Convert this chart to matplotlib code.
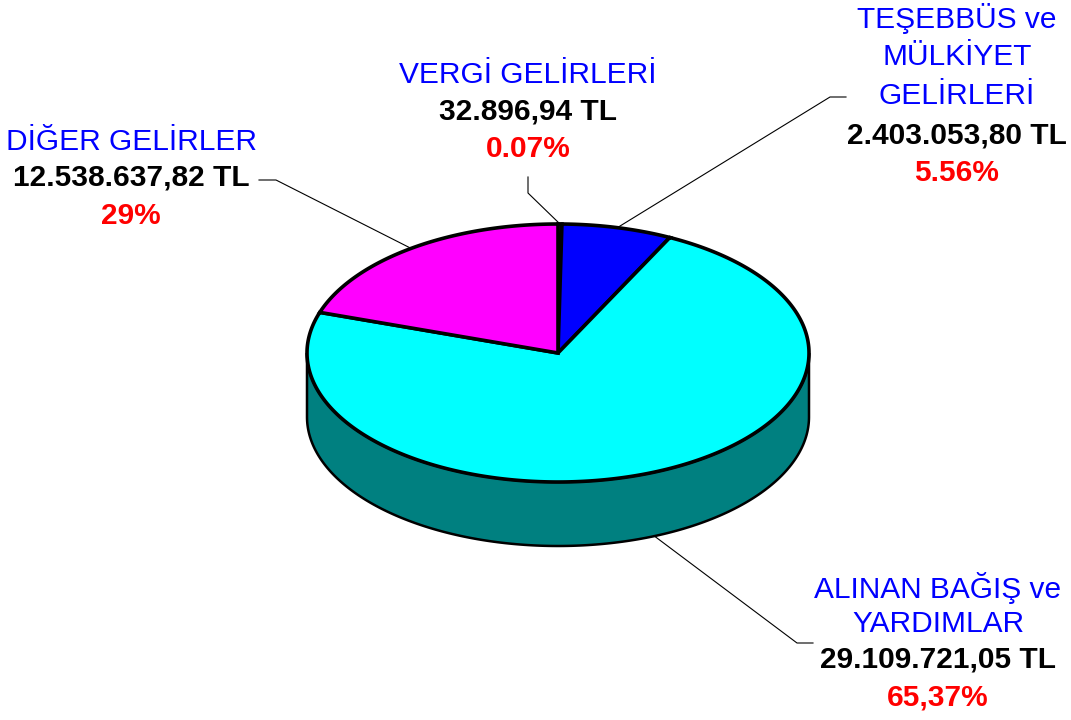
import numpy as np
import matplotlib
matplotlib.use("Agg")
import matplotlib.pyplot as plt
from matplotlib.patches import Polygon

plt.rcParams['font.family'] = ['Liberation Sans', 'DejaVu Sans']

# ---- data ----
categories = ["VERGİ GELİRLERİ", "TEŞEBBÜS ve\nMÜLKİYET\nGELİRLERİ",
              "ALINAN BAĞIŞ ve\nYARDIMLAR", "DİĞER GELİRLER"]
amount_labels = ["32.896,94 TL", "2.403.053,80 TL", "29.109.721,05 TL", "12.538.637,82 TL"]
percent_labels = ["0.07%", "5.56%", "65,37%", "29%"]
# slice shares as drawn in the picture (percent of the full circle)
slice_share = [0.25, 7.1, 72.75, 19.9]
slice_colors = ["#C8B4F0", "#0000FF", "#00FFFF", "#FF00FF"]
side_color = "#008080"

# ---- geometry (pixel space) ----
W, H = 1071, 720
cx, cy, rx, ry, depth = 558, 353, 251, 129, 64

fig = plt.figure(figsize=(W / 100, H / 100), dpi=100)
ax = fig.add_axes([0, 0, 1, 1])
ax.set_xlim(0, W)
ax.set_ylim(H, 0)
ax.axis('off')


def ell(t, dy=0.0):
    t = np.radians(t)
    return cx + rx * np.cos(t), cy - ry * np.sin(t) + dy


shares = np.array(slice_share, dtype=float)
shares = shares / shares.sum() * 360.0
starts = 90 - np.concatenate([[0], np.cumsum(shares)[:-1]])
ends = starts - shares

# side wall (front half), drawn first
tt = np.linspace(180, 360, 200)
xt, yt = ell(tt)
xb, yb = ell(tt[::-1], depth)
side = Polygon(np.column_stack([np.concatenate([xt, xb]), np.concatenate([yt, yb])]),
               closed=True, facecolor=side_color, edgecolor='black', lw=1.8, zorder=1)
ax.add_patch(side)

# top wedges
for s, e, c in zip(starts, ends, slice_colors):
    n = max(int(abs(s - e) * 2), 4)
    t = np.linspace(s, e, n)
    x, y = ell(t)
    pts = np.column_stack([np.concatenate([[cx], x]), np.concatenate([[cy], y])])
    ax.add_patch(Polygon(pts, closed=True, facecolor=c, edgecolor='black',
                         lw=2.6, joinstyle='miter', zorder=2))

# leader lines (anchor at slice mid-angle)
mids = (starts + ends) / 2
elbows = [[(528, 193), (528, 177)],
          [(830, 97), (846, 97)],
          [(797, 643), (813, 643)],
          [(276, 180), (259, 180)]]
for i, m in enumerate(mids):
    m_n = (m + 180) % 360 - 180
    dy = depth if m_n < 0 else 0
    ax0, ay0 = ell(m, dy)
    pts = [(ax0, ay0)] + elbows[i]
    ax.plot([p[0] for p in pts], [p[1] for p in pts], color='black', lw=0.8, zorder=3)

# labels
fs = 21.5
label_pos = [(528, 75), (957, 18), (938, 588), (131, 142)]
for i, (lx, ly) in enumerate(label_pos):
    lines = categories[i].split("\n")
    y = ly
    for ln in lines:
        ax.text(lx, y, ln, color='#0000FF', fontsize=fs, ha='center', va='center')
        y += 39 if i == 1 else 36
    ax.text(lx, y, amount_labels[i], color='black', fontsize=fs, fontweight='bold',
            ha='center', va='center')
    y += 38
    ax.text(lx, y, percent_labels[i], color='#FF0000', fontsize=fs, fontweight='bold',
            ha='center', va='center')

fig.savefig("out.png", dpi=100)
